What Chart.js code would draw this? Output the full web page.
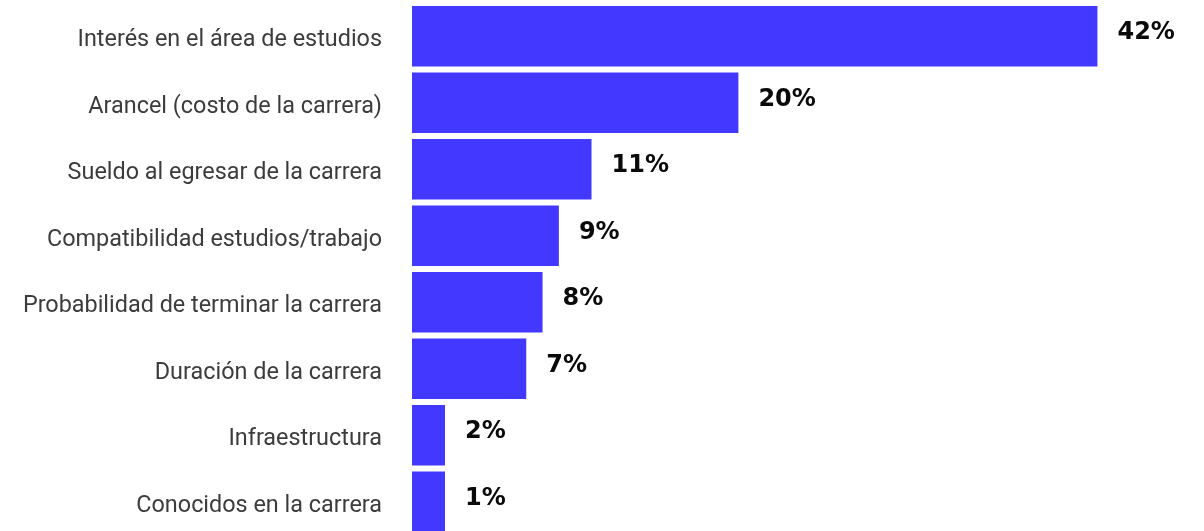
<!DOCTYPE html>
<html>
<head>
<meta charset="utf-8">
<script src="https://cdn.jsdelivr.net/npm/chart.js@4/dist/chart.umd.min.js"></script>
<style>
  html,body{margin:0;padding:0;background:#fff;overflow:hidden;}
  #wrap{position:relative;width:1204px;height:535px;}
</style>
</head>
<body>
<div id="wrap"><canvas id="mainChart"></canvas></div>
<script>
/* ─── DATA ─────────────────────────────── */
const categorias = [
  'Interés en el área de estudios',
  'Arancel (costo de la carrera)',
  'Sueldo al egresar de la carrera',
  'Compatibilidad estudios/trabajo',
  'Probabilidad de terminar la carrera',
  'Duración de la carrera',
  'Infraestructura',
  'Conocidos en la carrera'
];
const valores = [42, 20, 11, 9, 8, 7, 2, 1];

const BAR_COLOR = '#4338ff';

/* ─── VALUE LABELS ─────────────────────── */
const valueLabels = {
  id:'valueLabels',
  afterDatasetsDraw(chart){
    const {ctx} = chart;
    const meta = chart.getDatasetMeta(0);
    ctx.save();
    ctx.font = 'bold 24px "DejaVu Sans"';
    ctx.fillStyle = '#0a0a0a';
    ctx.textAlign = 'left';
    ctx.textBaseline = 'middle';
    meta.data.forEach((bar,i)=>{
      ctx.fillText(valores[i]+'%', bar.x + 20, bar.y - 3);
    });
    ctx.restore();
  }
};

/* ─── CHART ────────────────────────────── */
new Chart(document.getElementById('mainChart').getContext('2d'),{
  type:'bar',
  data:{
    labels:categorias,
    datasets:[{
      data:valores,
      backgroundColor:BAR_COLOR,
      borderWidth:0,
      barPercentage:0.91,
      categoryPercentage:1,
      minBarLength:33
    }]
  },
  options:{
    indexAxis:'y',
    responsive:true, maintainAspectRatio:false,
    animation:false,
    layout:{padding:{top:3,right:0,bottom:0,left:0}},
    plugins:{legend:{display:false},tooltip:{enabled:false}},
    scales:{
      x:{
        display:false,
        min:0, max:48.53
      },
      y:{
        grid:{display:false,drawTicks:false},
        border:{display:false},
        ticks:{
          color:'#3c3c3c',
          padding:30,
          labelOffset:4,
          font:{family:'Roboto',size:23.4}
        },
        afterFit(scale){
          scale.width = 412;
          scale.paddingTop = 0;
          scale.paddingBottom = 0;
        }
      }
    }
  },
  plugins:[valueLabels]
});
</script>
</body>
</html>
